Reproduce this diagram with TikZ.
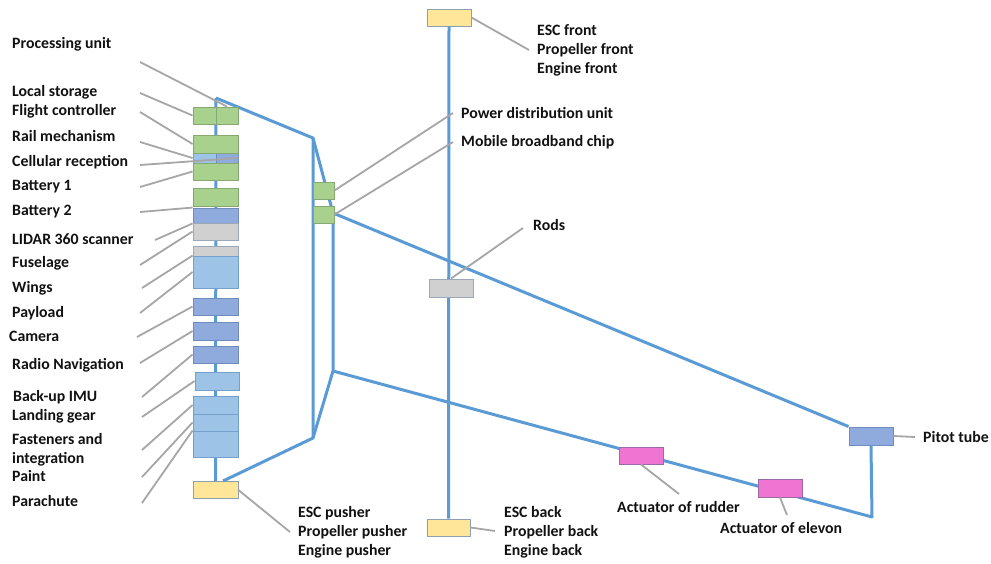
\documentclass[tikz,border=0pt]{standalone}
\usepackage{fontspec}
\setmainfont{Carlito}
\definecolor{bus}{HTML}{5B9BD5}
\definecolor{lead}{HTML}{A6A6A6}
\definecolor{gfill}{HTML}{A9D18E}
\definecolor{gline}{HTML}{86A872}
\definecolor{dfill}{HTML}{8FAADC}
\definecolor{dline}{HTML}{6F8CC0}
\definecolor{lfill}{HTML}{9DC3E6}
\definecolor{lline}{HTML}{74A0CB}
\definecolor{sfill}{HTML}{D0D0D0}
\definecolor{sline}{HTML}{9AA8BA}
\definecolor{yfill}{HTML}{FFE699}
\definecolor{yline}{HTML}{8E9EB3}
\definecolor{pfill}{HTML}{F075D3}
\definecolor{pline}{HTML}{9A6AA8}
\definecolor{txt}{HTML}{111111}

\begin{document}
\begin{tikzpicture}[x=1pt,y=-1pt,
  box/.style={rectangle,inner sep=0pt,line width=0.9pt,minimum width=45pt,minimum height=17pt},
  gbox/.style={box,fill=gfill,draw=gline},
  dbox/.style={box,fill=dfill,draw=dline},
  lbox/.style={box,fill=lfill,draw=lline},
  sbox/.style={box,fill=sfill,draw=sline},
  ybox/.style={box,fill=yfill,draw=yline},
  pbox/.style={box,fill=pfill,draw=pline},
  lbl/.style={anchor=west,inner sep=0pt,text=txt,font=\bfseries\fontsize{15.8}{19}\selectfont,align=left},
  busline/.style={draw=bus,line width=3pt,line join=round},
  leader/.style={draw=lead,line width=1.8pt}]
  \useasboundingbox (0,0) rectangle (991,563);

  \coordinate (top) at (216,98);
  \coordinate (p1) at (313,138);
  \coordinate (p2) at (313,438);
  \coordinate (p3) at (333,213);
  \coordinate (p4) at (333,371);
  \coordinate (p5) at (872,517);
  \coordinate (p6) at (223,481);

  \node[ybox] (pusher) at (215.5,490) {};
  \node[ybox,minimum width=44pt] (escf) at (449,17.5) {};
  \node[ybox,minimum width=43pt] (escb) at (448.5,527.5) {};
  \node[dbox,minimum width=44pt,minimum height=18pt] (pitot) at (871,436) {};

  \draw[busline] (top) -- (pusher.north);
  \draw[busline] (escf.south) -- (escb.north);
  \draw[busline] (top) -- (p1) -- (p2) -- (p6);
  \draw[busline] (p1) -- (p3) -- (p4) -- (p2);
  \draw[busline] (p3) -- (pitot.north west);
  \draw[busline] (p4) -- (p5) -- (pitot.south);

  \node[gbox,minimum width=23pt] (store) at (204.5,115.5) {};
  \node[gbox,minimum width=22pt] (proc) at (227,115.5) {};
  \node[lbox,minimum width=23pt,minimum height=10pt] (cella) at (204.5,158) {};
  \node[dbox,minimum width=22pt,minimum height=10pt] (cellb) at (227,158) {};
  \node[gbox,minimum height=18pt] (rail) at (215.5,144) {};
  \node[gbox] (bat1) at (215.5,171.5) {};
  \node[gbox,minimum height=18pt] (bat2) at (215.5,197) {};
  \node[dbox,minimum height=15pt] (lidar) at (215.5,215.5) {};
  \node[sbox] (fuse) at (215.5,231.5) {};
  \node[sbox] (fuse2) at (215.5,254.5) {};
  \node[lbox,minimum height=32pt] (wing) at (215.5,272) {};
  \node[dbox] (pay) at (215.5,306.5) {};
  \node[dbox,minimum height=18pt] (cam) at (215.5,331) {};
  \node[dbox] (radio) at (215.5,354.5) {};
  \node[lbox,minimum width=44pt,minimum height=18pt] (imu) at (217,381) {};
  \node[lbox,minimum height=18pt] (gear) at (215.5,405) {};
  \node[lbox] (fast) at (215.5,422.5) {};
  \node[lbox,minimum height=26pt] (paint) at (215.5,444) {};

  \node[gbox,minimum width=21pt] (pdu) at (323.5,190.5) {};
  \node[gbox,minimum width=21pt] (mbc) at (323.5,214.5) {};
  \node[sbox,minimum width=44pt,minimum height=18pt] (rods) at (451,288) {};
  \node[pbox,minimum width=44pt] (rudder) at (641,455.5) {};
  \node[pbox,minimum width=44pt,minimum height=18pt] (elevon) at (780,488) {};

  \node[lbl] (tproc) at (12,44) {Processing unit};
  \node[lbl] (tstore) at (12,92) {Local storage};
  \node[lbl] (tfc) at (12,111) {Flight controller};
  \node[lbl] (trail) at (12,136) {Rail mechanism};
  \node[lbl] (tcell) at (12,162) {Cellular reception};
  \node[lbl] (tbat1) at (12,187) {Battery 1};
  \node[lbl] (tbat2) at (12,212) {Battery 2};
  \node[lbl] (tlidar) at (12,239) {LIDAR 360 scanner};
  \node[lbl] (tfuse) at (12,263) {Fuselage};
  \node[lbl] (twing) at (12,288) {Wings};
  \node[lbl] (tpay) at (12,313) {Payload};
  \node[lbl] (tcam) at (9,336) {Camera};
  \node[lbl] (tradio) at (12,365) {Radio Navigation};
  \node[lbl] (timu) at (13,397) {Back-up IMU};
  \node[lbl] (tgear) at (12,416) {Landing gear};
  \node[lbl] (tfast) at (12,449.5) {Fasteners and\\integration};
  \node[lbl] (tpaint) at (12,476) {Paint};
  \node[lbl] (tchute) at (12,501) {Parachute};

  \node[lbl] (tescf) at (537,50) {ESC front\\Propeller front\\Engine front};
  \node[lbl] (tpdu) at (461,113) {Power distribution unit};
  \node[lbl] (tmbc) at (461,142) {Mobile broadband chip};
  \node[lbl] (trods) at (533,225) {Rods};
  \node[lbl] (tpusher) at (298,532) {ESC pusher\\Propeller pusher\\Engine pusher};
  \node[lbl] (tescb) at (504,532) {ESC back\\Propeller back\\Engine back};
  \node[lbl] (tpitot) at (923,437) {Pitot tube};
  \node[lbl] (trudder) at (617,507) {Actuator of rudder};
  \node[lbl] (televon) at (720,528) {Actuator of elevon};

  \coordinate (lproc) at (140,62);
  \coordinate (lstore) at (140,93);
  \coordinate (lfc) at (140,112);
  \coordinate (lrail) at (140,142);
  \coordinate (lcell) at (140,165);
  \coordinate (lbat1) at (140,187);
  \coordinate (lbat2) at (140,212);
  \coordinate (llidar) at (155,240);
  \coordinate (lfuse) at (140,265);
  \coordinate (lwing) at (142,288);
  \coordinate (lpay) at (140,313);
  \coordinate (lcam) at (137,337);
  \coordinate (lradio) at (140,363);
  \coordinate (limu) at (142,397);
  \coordinate (lgear) at (142,417);
  \coordinate (lfast) at (142,450);
  \coordinate (lpaint) at (142,477);
  \coordinate (lchute) at (142,503);
  \coordinate (lescf) at (529,50);
  \coordinate (lpdu) at (453,113);
  \coordinate (lmbc) at (453,142);
  \coordinate (lrods) at (523,228);
  \coordinate (lpusher) at (290,532);
  \coordinate (lescb) at (495,531);
  \coordinate (lpitot) at (915,437);
  \coordinate (lrudder) at (679,494);
  \coordinate (lelevon) at (787,515);

  \draw[leader] (lproc) -- (proc.north);
  \draw[leader] (lstore) -- (store.west);
  \draw[leader] (lfc) -- (rail.west);
  \draw[leader] (lrail) -- (cella.west);
  \draw[leader] (lcell) -- (cellb.east);
  \draw[leader] (lbat1) -- (bat1.west);
  \draw[leader] (lbat2) -- (lidar.north west);
  \draw[leader] (llidar) -- (lidar.south west);
  \draw[leader] (lfuse) -- (fuse.west);
  \draw[leader] (lwing) -- (wing.north west);
  \draw[leader] (lpay) -- (wing.west);
  \draw[leader] (lcam) -- (pay.west);
  \draw[leader] (lradio) -- (cam.west);
  \draw[leader] (limu) -- (radio.west);
  \draw[leader] (lgear) -- (imu.west);
  \draw[leader] (lfast) -- (gear.west);
  \draw[leader] (lpaint) -- (fast.west);
  \draw[leader] (lchute) -- (paint.north west);
  \draw[leader] (escf.east) -- (lescf);
  \draw[leader] (pdu.east) -- (lpdu);
  \draw[leader] (mbc.east) -- (lmbc);
  \draw[leader] (rods.north) -- (lrods);
  \draw[leader] (pusher.east) -- (lpusher);
  \draw[leader] (escb.east) -- (lescb);
  \draw[leader] (pitot.east) -- (lpitot);
  \draw[leader] (rudder.south) -- (lrudder);
  \draw[leader] (elevon.south) -- (lelevon);
\end{tikzpicture}
\end{document}
